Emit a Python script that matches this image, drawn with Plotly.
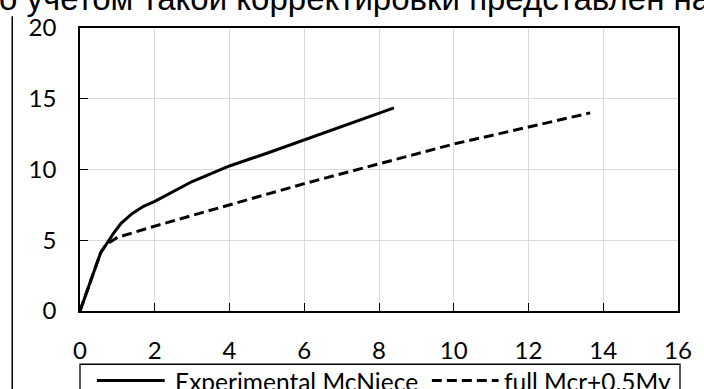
import plotly.graph_objects as go

# ---- data ----
exp_x = [0, 0.3, 0.55, 0.7, 0.9, 1.1, 1.4, 1.7, 2.0, 3.0, 4.0, 5.0, 6.0, 7.0, 8.4]
exp_y = [0, 2.3, 4.1, 4.7, 5.5, 6.2, 6.9, 7.4, 7.75, 9.15, 10.25, 11.15, 12.1, 13.0, 14.35]
full_x = [0, 0.3, 0.55, 0.7, 1.0, 2.0, 4.0, 6.0, 8.0, 10.0, 12.0, 13.65]
full_y = [0, 2.3, 4.1, 4.7, 5.2, 6.0, 7.5, 9.0, 10.4, 11.8, 13.0, 14.0]
x_ticks = [0, 2, 4, 6, 8, 10, 12, 14, 16]
y_ticks = [0, 5, 10, 15, 20]
series_names = ["Experimental McNiece", "full Mcr+0.5My"]
top_text = "о учетом такой корректировки представлен на"

W, H = 704, 389
L, R, T, B = 80, 24, 24, 78
PW, PH = W - L - R, H - T - B

def px(x):
    return (x - L) / PW

def py(y):
    return (H - B - y) / PH

FONT = "Lato"

fig = go.Figure()
fig.add_trace(go.Scatter(x=exp_x, y=exp_y, mode="lines", name=series_names[0],
                         line=dict(color="black", width=3)))
fig.add_trace(go.Scatter(x=full_x, y=full_y, mode="lines", name=series_names[1],
                         line=dict(color="black", width=3, dash="10px,5px")))

axis_common = dict(showline=True, linecolor="black", linewidth=1.5, mirror=True,
                   ticks="inside", ticklen=8, tickwidth=1.2, tickcolor="black",
                   showgrid=True, gridcolor="#d9d9d9", gridwidth=1.3,
                   zeroline=False, tickfont=dict(family=FONT, size=24, color="black"))

fig.update_xaxes(range=[0, 16], tickvals=x_ticks, ticktext=[str(v) for v in x_ticks],
                 ticklabelstandoff=17, **axis_common)
fig.update_yaxes(range=[0, 20], tickvals=y_ticks, ticktext=[str(v) for v in y_ticks],
                 ticklabelstandoff=17, **axis_common)

shapes = []
annotations = []
# left page rule
shapes.append(dict(type="line", xref="paper", yref="paper", x0=px(12), x1=px(12),
                   y0=py(12), y1=py(H + 5), line=dict(color="black", width=1.5)))
# legend box (cut off at bottom)
shapes.append(dict(type="rect", xref="paper", yref="paper", x0=px(80), x1=px(682),
                   y0=py(365), y1=py(H + 10), line=dict(color="black", width=1.3),
                   fillcolor="white"))
# legend samples
shapes.append(dict(type="line", xref="paper", yref="paper", x0=px(97), x1=px(165),
                   y0=py(381.5), y1=py(381.5), line=dict(color="black", width=3)))
shapes.append(dict(type="line", xref="paper", yref="paper", x0=px(433), x1=px(500),
                   y0=py(381.5), y1=py(381.5), line=dict(color="black", width=3, dash="10px,5px")))
annotations.append(dict(xref="paper", yref="paper", x=px(173), y=py(382), xanchor="left",
                        yanchor="middle", text=series_names[0], showarrow=False,
                        font=dict(family=FONT, size=24.5, color="black")))
annotations.append(dict(xref="paper", yref="paper", x=px(503), y=py(382), xanchor="left",
                        yanchor="middle", text=series_names[1], showarrow=False,
                        font=dict(family=FONT, size=24.5, color="black")))
# cut-off document text at the top
annotations.append(dict(xref="paper", yref="paper", x=px(-3), y=py(15), xanchor="left",
                        yanchor="bottom", text=top_text, showarrow=False,
                        font=dict(family="Liberation Sans", size=33, color="black")))

fig.update_layout(width=W, height=H, margin=dict(l=L, r=R, t=T, b=B),
                  paper_bgcolor="white", plot_bgcolor="white", showlegend=False,
                  shapes=shapes, annotations=annotations)

fig.write_html("out.html")
